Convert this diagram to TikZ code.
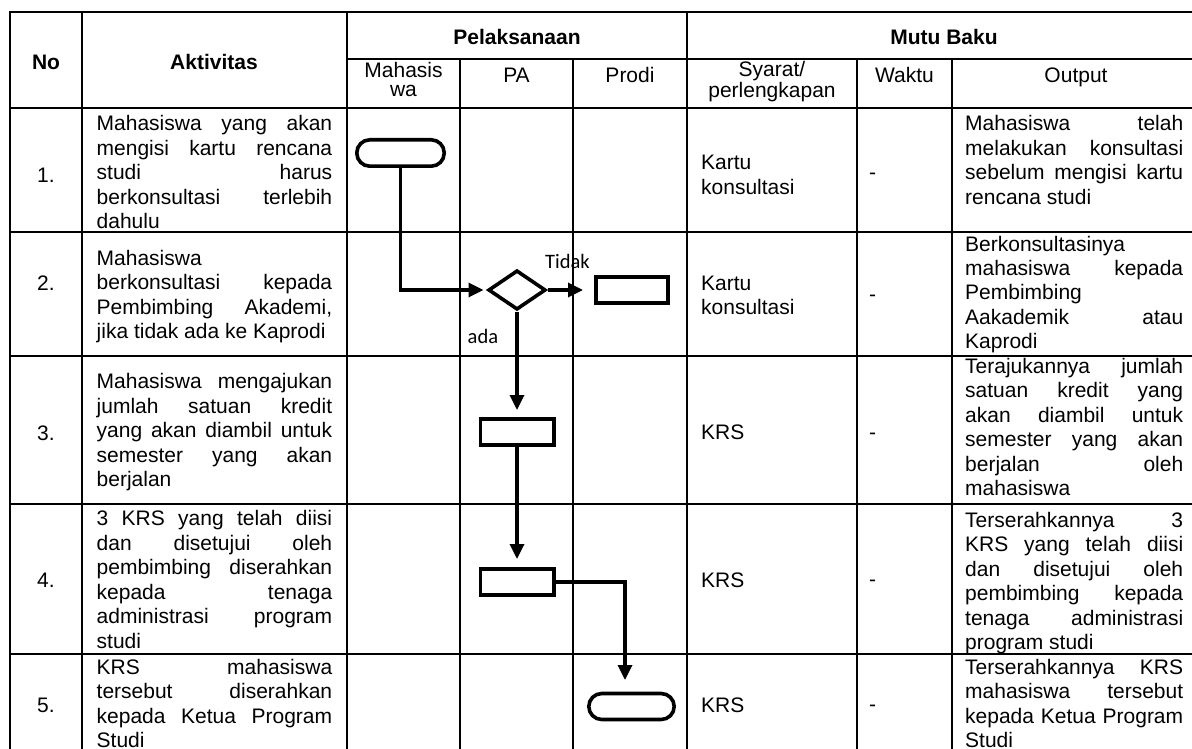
\documentclass[tikz,border=0pt]{standalone}
\usepackage{fontspec}
\setmainfont{Liberation Sans}
\newfontfamily\labelfont{Carlito}
\usetikzlibrary{arrows.meta,shapes.geometric}

% widths of the justified text columns
\newlength\akw \setlength\akw{235.5pt}
\newlength\otw \setlength\otw{218pt}
% one justified line: interword spaces stretch to fill the column
\newcommand\ja[1]{\makebox[\akw][s]{\spaceskip=.278em plus 1fill minus .08em\relax#1}}
\newcommand\jo[1]{\makebox[\otw][s]{\spaceskip=.278em plus 1fill minus .08em\relax#1}}
\newcommand\cellfont{\fontsize{21}{24.5}\selectfont\spaceskip=0pt\xspaceskip=0pt\relax}
\newcommand\headfont{\fontsize{21}{19}\selectfont\spaceskip=0pt\xspaceskip=0pt\relax}

\begin{document}
\begin{tikzpicture}[x=1pt,y=-1pt,
  grid/.style={line width=2.3pt, line cap=rect},
  akt/.style={anchor=base west, inner sep=0pt, text width=\akw, align=left, execute at begin node=\cellfont},
  outp/.style={anchor=base west, inner sep=0pt, text width=\otw, align=left, execute at begin node=\cellfont},
  lefttxt/.style={anchor=base west, inner sep=0pt, text width=150pt, align=left, execute at begin node=\cellfont},
  ctr/.style={anchor=base, inner sep=0pt, font=\cellfont},
  subhead/.style={anchor=base, inner sep=0pt, text width=150pt, align=center, execute at begin node=\headfont},
  flowbox/.style={draw, line width=3.6pt, inner sep=0pt, minimum height=26.4pt},
  term/.style={flowbox, rounded corners=13pt},
  decision/.style={diamond, draw, line width=3.6pt, inner sep=0pt, minimum width=57.4pt, minimum height=39.4pt},
  flow/.style={line width=3.3pt, -{Triangle[length=15pt,width=14pt]}},
  lbl/.style={anchor=base west, inner sep=0pt, font={\labelfont\fontsize{20.5}{24}\selectfont}}
]
\useasboundingbox (0,0) rectangle (1192,749);
\clip (0,0) rectangle (1192,749);

% table rules
\draw[grid] (10,12) -- (1200,12);
\draw[grid] (347,59) -- (1200,59);
\foreach \y in {108,232,356,504,654} \draw[grid] (10,\y) -- (1200,\y);
\foreach \x in {10,82,347,687} \draw[grid] (\x,12) -- (\x,760);
\foreach \x in {460,573,857,952} \draw[grid] (\x,59) -- (\x,760);

% header
\node[ctr] (hno) at (46,69.5) {\bfseries No};
\node[ctr] (hakt) at (214,69.5) {\bfseries Aktivitas};
\node[ctr] (hpel) at (517,44.5) {\bfseries Pelaksanaan};
\node[ctr] (hmutu) at (944,44.5) {\bfseries Mutu Baku};
\node[subhead] (hmhs) at (403.5,77.5) {Mahasis\\wa};
\node[ctr] (hpa) at (516.5,83) {PA};
\node[ctr] (hprodi) at (630,83) {Prodi};
\node[subhead] (hsyarat) at (772,76.5) {Syarat/\\perlengkapan};
\node[ctr] (hwaktu) at (904.5,83) {Waktu};
\node[ctr] (hout) at (1076,83) {Output};

% row numbers
\node[ctr] (n1) at (46,182.5) {1.};
\node[ctr] (n2) at (46,290.5) {2.};
\node[ctr] (n3) at (46,440.5) {3.};
\node[ctr] (n4) at (46,587.5) {4.};
\node[ctr] (n5) at (46,712.5) {5.};

% activities
\node[akt] (a1) at (96.5,131) {\ja{Mahasiswa yang akan}\\\ja{mengisi kartu rencana}\\\ja{studi harus}\\\ja{berkonsultasi terlebih}\\dahulu};
\node[akt] (a2) at (96.5,265) {Mahasiswa\\\ja{berkonsultasi kepada}\\\ja{Pembimbing Akademi,}\\jika tidak ada ke Kaprodi};
\node[akt] (a3) at (96.5,388.5) {\ja{Mahasiswa mengajukan}\\\ja{jumlah satuan kredit}\\\ja{yang akan diambil untuk}\\\ja{semester yang akan}\\berjalan};
\node[akt] (a4) at (96.5,525.5) {\ja{3 KRS yang telah diisi}\\\ja{dan disetujui oleh}\\\ja{pembimbing diserahkan}\\\ja{kepada tenaga}\\\ja{administrasi program}\\studi};
\node[akt] (a5) at (96.5,674) {\ja{KRS mahasiswa}\\\ja{tersebut diserahkan}\\\ja{kepada Ketua Program}\\Studi};

% requirements
\node[lefttxt] (s1) at (701,170) {Kartu\\konsultasi};
\node[lefttxt] (s2) at (701,290) {Kartu\\konsultasi};
\node[lefttxt] (s3) at (701,439.5) {KRS};
\node[lefttxt] (s4) at (701,587.5) {KRS};
\node[lefttxt] (s5) at (701,712.5) {KRS};

% time
\node[lefttxt] (w1) at (869,179) {-};
\node[lefttxt] (w2) at (869,301) {-};
\node[lefttxt] (w3) at (869,439) {-};
\node[lefttxt] (w4) at (869,586) {-};
\node[lefttxt] (w5) at (869,711) {-};

% outputs
\node[outp] (o1) at (965,131) {\jo{Mahasiswa telah}\\\jo{melakukan konsultasi}\\\jo{sebelum mengisi kartu}\\rencana studi};
\node[outp] (o2) at (965,251) {Berkonsultasinya\\\jo{mahasiswa kepada}\\Pembimbing\\\jo{Aakademik atau}\\Kaprodi};
\node[outp] (o3) at (965,373) {\jo{Terajukannya jumlah}\\\jo{satuan kredit yang}\\\jo{akan diambil untuk}\\\jo{semester yang akan}\\\jo{berjalan oleh}\\mahasiswa};
\node[outp] (o4) at (965,527) {\jo{Terserahkannya 3}\\\jo{KRS yang telah diisi}\\\jo{dan disetujui oleh}\\\jo{pembimbing kepada}\\\jo{tenaga administrasi}\\program studi};
\node[outp] (o5) at (965,674) {\jo{Terserahkannya KRS}\\\jo{mahasiswa tersebut}\\\jo{kepada Ketua Program}\\Studi};

% flow symbols
\node[term, minimum width=87.4pt] (t1) at (400.5,153) {};
\node[decision] (d1) at (517,290) {};
\node[flowbox, minimum width=72.4pt] (r2) at (632,290) {};
\node[flowbox, minimum width=73.4pt] (r3) at (517,432) {};
\node[flowbox, minimum width=73.4pt] (r4) at (517,582) {};
\node[term, minimum width=85.4pt, minimum height=26pt] (t5) at (631.5,706.5) {};
\coordinate (k5) at (625,680);

% flow connectors
\draw[flow, shorten >=3pt] (t1.south) |- (d1.west);
\draw[flow, shorten >=11pt] (d1.east) -- (r2.west);
\draw[flow, shorten >=7pt] (d1.south) -- (r3.north);
\draw[flow, shorten >=8pt] (r3.south) -- (r4.north);
\draw[flow] (r4.east) -| (k5);

% branch labels
\node[lbl] (tidak) at (545,268) {Tidak};
\node[lbl] (ada) at (467.5,343) {ada};
\end{tikzpicture}
\end{document}
